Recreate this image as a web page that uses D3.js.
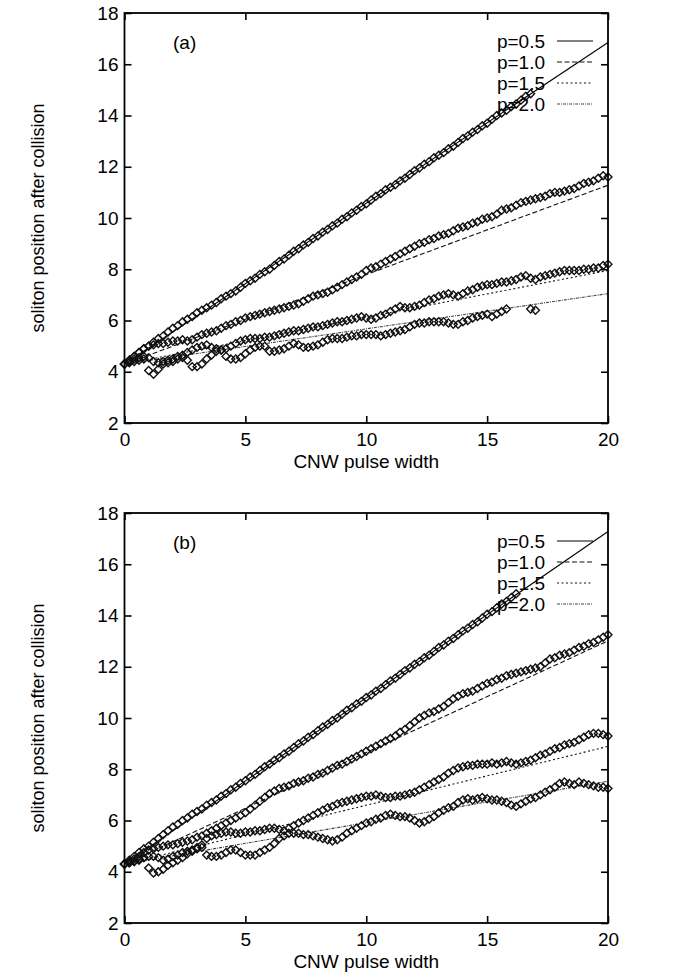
<!DOCTYPE html>
<meta charset="utf-8">
<script src="https://d3js.org/d3.v7.min.js"></script>
<style>
  body { margin: 0; background: #fff; }
  text { font-family: "Liberation Sans", Arial, Helvetica, sans-serif; fill: #000; }
</style>
<div id="chart"></div>
<script>
// sample grid of the pulse width (x) shared by every data series
const xGrid = [0, 0.2, 0.4, 0.6, 0.8, 1.0, 1.2, 1.4, 1.6, 1.8, 2.0, 2.2, 2.4, 2.6, 2.8, 3.0,
  3.2, 3.4, 3.6, 3.8, 4.0, 4.2, 4.4, 4.6, 4.8, 5.0, 5.2, 5.4, 5.6, 5.8, 6.0, 6.2, 6.4, 6.6, 6.8, 7.0,
  7.2, 7.4, 7.6, 7.8, 8.0, 8.2, 8.4, 8.6, 8.8, 9.0, 9.2, 9.4, 9.6, 9.8, 10.0, 10.2, 10.4, 10.6, 10.8, 11.0,
  11.2, 11.4, 11.6, 11.8, 12.0, 12.2, 12.4, 12.6, 12.8, 13.0, 13.2, 13.4, 13.6, 13.8, 14.0,
  14.2, 14.4, 14.6, 14.8, 15.0, 15.2, 15.4, 15.6, 15.8, 16.0, 16.2, 16.4, 16.6, 16.8, 17.0,
  17.2, 17.4, 17.6, 17.8, 18.0, 18.2, 18.4, 18.6, 18.8, 19.0, 19.2, 19.4, 19.6, 19.8, 20.0];

const legendLabels = ["p=0.5", "p=1.0", "p=1.5", "p=2.0"];
const xTicks = [0, 5, 10, 15, 20];
const yTicks = [2, 4, 6, 8, 10, 12, 14, 16, 18];

// fitted straight lines: value at x=0 and at x=20
const fitStart = 4.3;
const fitEndA = [16.85, 11.28, 7.95, 7.05];
const fitEndB = [17.28, 13.01, 8.89, 7.53];

// panel (a) simulation points
const a05 = [4.3,
  4.45, 4.6, 4.75, 4.9, 5.0, 5.15, 5.3, 5.4, 5.55, 5.7, 5.8, 5.95, 6.05, 6.15, 6.3,
  6.4, 6.5, 6.6, 6.7, 6.85, 6.95, 7.05, 7.15, 7.3, 7.45, 7.55, 7.65, 7.8, 7.9, 8.0,
  8.15, 8.3, 8.4, 8.55, 8.7, 8.8, 8.95, 9.05, 9.2, 9.3, 9.45, 9.55, 9.7, 9.8, 9.95,
  10.05, 10.2, 10.3, 10.45, 10.55, 10.7, 10.85, 10.95, 11.1, 11.2, 11.3, 11.45, 11.55, 11.7, 11.85,
  11.95, 12.1, 12.2, 12.35, 12.45, 12.55, 12.7, 12.8, 12.95, 13.1, 13.2, 13.35, 13.45, 13.6, 13.7,
  13.85, 14.0, 14.1, 14.2, 14.35, 14.45, 14.6, 14.75, 14.85];
const a10 = [4.3,
  4.45, 4.6, 4.75, 4.9, 5.0, 5.05, 5.1, 5.1, 5.15, 5.2, 5.2, 5.25, 5.2, 5.25, 5.35,
  5.45, 5.5, 5.55, 5.6, 5.7, 5.8, 5.85, 5.95, 6.0, 6.1, 6.15, 6.2, 6.25, 6.3, 6.35,
  6.4, 6.45, 6.5, 6.55, 6.6, 6.65, 6.75, 6.85, 6.95, 7.0, 7.05, 7.1, 7.2, 7.3, 7.4,
  7.5, 7.6, 7.7, 7.8, 7.95, 8.05, 8.1, 8.2, 8.3, 8.4, 8.5, 8.6, 8.7, 8.8, 8.9,
  9.0, 9.05, 9.15, 9.2, 9.3, 9.35, 9.4, 9.5, 9.6, 9.65, 9.7, 9.8, 9.85, 9.95, 10.0,
  10.05, 10.15, 10.3, 10.35, 10.4, 10.5, 10.6, 10.65, 10.7, 10.75, 10.8, 10.85, 10.95, 11.0, 11.0,
  11.05, 11.1, 11.15, 11.25, 11.35, 11.4, 11.45, 11.55, 11.65, 11.6];
const a15 = [4.3,
  4.4, 4.5, 4.55, 4.6, 4.55, 4.4, 4.35, 4.4, 4.45, 4.5, 4.6, 4.65, 4.75, 4.85, 4.95,
  5.0, 5.05, 4.95, 4.9, 4.85, 4.9, 5.0, 5.1, 5.2, 5.25, 5.3, 5.3, 5.3, 5.35, 5.35,
  5.4, 5.45, 5.5, 5.55, 5.6, 5.6, 5.65, 5.7, 5.75, 5.75, 5.8, 5.85, 5.9, 5.95, 5.95,
  6.0, 6.05, 6.1, 6.15, 6.1, 6.05, 6.1, 6.2, 6.25, 6.35, 6.45, 6.55, 6.5, 6.5, 6.55,
  6.6, 6.7, 6.8, 6.85, 6.95, 7.0, 7.05, 7.0, 6.95, 7.05, 7.15, 7.2, 7.3, 7.35, 7.4,
  7.4, 7.45, 7.5, 7.5, 7.55, 7.6, 7.7, 7.75, 7.65, 7.6, 7.7, 7.75, 7.8, 7.85, 7.9,
  7.95, 7.95, 7.95, 7.95, 8.0, 8.0, 8.05, 8.05, 8.15, 8.2];
const a20 = [4.3,
  4.35, 4.4, 4.45, 4.5, 4.05, 3.9, 4.1, 4.3, 4.35, 4.4, 4.5, 4.55, 4.45, 4.2, 4.2,
  4.3, 4.5, 4.65, 4.8, 4.85, 4.6, 4.5, 4.5, 4.55, 4.7, 4.85, 4.95, 5.0, 5.0, 4.8,
  4.8, 4.85, 4.9, 5.0, 5.1, 5.05, 4.95, 4.95, 5.0, 5.05, 5.15, 5.25, 5.3, 5.3, 5.3,
  5.35, 5.4, 5.4, 5.45, 5.45, 5.45, 5.45, 5.4, 5.45, 5.5, 5.55, 5.6, 5.65, 5.75, 5.85,
  5.9, 5.9, 5.95, 5.95, 5.95, 5.95, 5.9, 5.85, 5.85, 5.95, 6.0, 6.1, 6.15, 6.2, 6.25,
  6.15, 6.25, 6.35, 6.45, null, null, null, null, 6.45, 6.4];

// panel (b) simulation points
const b05 = [4.3,
  4.45, 4.6, 4.75, 4.9, 5.0, 5.15, 5.3, 5.45, 5.6, 5.75, 5.85, 6.0, 6.1, 6.25, 6.35,
  6.45, 6.6, 6.7, 6.8, 6.95, 7.05, 7.2, 7.3, 7.45, 7.55, 7.7, 7.8, 7.95, 8.1, 8.2,
  8.35, 8.45, 8.6, 8.7, 8.85, 9.0, 9.1, 9.25, 9.35, 9.5, 9.65, 9.75, 9.9, 10.0, 10.15,
  10.3, 10.4, 10.55, 10.65, 10.8, 10.9, 11.05, 11.15, 11.3, 11.45, 11.55, 11.7, 11.85, 11.95, 12.1,
  12.2, 12.35, 12.45, 12.6, 12.75, 12.85, 13.0, 13.1, 13.25, 13.4, 13.5, 13.65, 13.75, 13.9, 14.05,
  14.15, 14.3, 14.45, 14.55, 14.7, 14.85];
const b10 = [4.3,
  4.4, 4.5, 4.6, 4.75, 4.85, 4.9, 4.95, 5.0, 5.05, 5.05, 5.1, 5.15, 5.2, 5.25, 5.35,
  5.4, 5.5, 5.6, 5.7, 5.8, 5.9, 6.0, 6.1, 6.2, 6.3, 6.45, 6.6, 6.75, 6.9, 7.05,
  7.15, 7.25, 7.3, 7.35, 7.45, 7.5, 7.55, 7.65, 7.7, 7.8, 7.85, 7.95, 8.05, 8.15, 8.2,
  8.3, 8.4, 8.5, 8.6, 8.7, 8.8, 8.9, 9.0, 9.1, 9.2, 9.3, 9.45, 9.55, 9.7, 9.85,
  10.0, 10.1, 10.2, 10.25, 10.35, 10.45, 10.6, 10.75, 10.85, 10.95, 11.0, 11.05, 11.15, 11.25, 11.35,
  11.4, 11.5, 11.55, 11.65, 11.7, 11.75, 11.8, 11.85, 11.9, 11.95, 12.0, 12.15, 12.3, 12.35, 12.45,
  12.5, 12.55, 12.65, 12.75, 12.8, 12.9, 12.95, 13.05, 13.15, 13.25];
const b15 = [4.3,
  4.35, 4.4, 4.5, 4.55, 4.6, 4.6, 4.55, 4.45, 4.5, 4.6, 4.65, 4.75, 4.8, 4.85, 4.95,
  5.05, 5.3, 5.4, 5.45, 5.5, 5.55, 5.55, 5.5, 5.5, 5.55, 5.55, 5.6, 5.6, 5.65, 5.7,
  5.7, 5.65, 5.6, 5.7, 5.8, 5.9, 6.0, 6.1, 6.2, 6.3, 6.4, 6.5, 6.55, 6.65, 6.7,
  6.75, 6.8, 6.85, 6.9, 6.95, 6.95, 7.0, 6.95, 6.9, 6.9, 6.95, 6.95, 7.0, 7.05, 7.1,
  7.2, 7.3, 7.4, 7.5, 7.6, 7.7, 7.85, 7.95, 8.05, 8.1, 8.15, 8.15, 8.2, 8.2, 8.2,
  8.25, 8.2, 8.25, 8.3, 8.25, 8.2, 8.25, 8.3, 8.35, 8.45, 8.55, 8.6, 8.7, 8.8, 8.85,
  8.95, 9.0, 9.05, 9.15, 9.25, 9.35, 9.4, 9.4, 9.35, 9.3];
const b20 = [4.3,
  4.35, 4.4, 4.45, 4.55, 4.15, 3.95, 4.0, 4.1, 4.25, 4.35, 4.45, 4.55, 4.7, 4.8, 4.9,
  4.95, 4.65, 4.6, 4.6, 4.65, 4.75, 4.85, 4.85, 4.75, 4.65, 4.65, 4.65, 4.75, 4.85, 4.95,
  5.1, 5.3, 5.4, 5.5, 5.5, 5.5, 5.45, 5.45, 5.4, 5.35, 5.3, 5.25, 5.2, 5.25, 5.35,
  5.5, 5.6, 5.7, 5.8, 5.9, 5.95, 6.05, 6.1, 6.2, 6.25, 6.2, 6.15, 6.15, 6.1, 6.0,
  5.9, 5.95, 6.05, 6.15, 6.3, 6.4, 6.5, 6.55, 6.7, 6.8, 6.85, 6.8, 6.85, 6.9, 6.85,
  6.8, 6.8, 6.75, 6.7, 6.6, 6.55, 6.65, 6.75, 6.85, 6.9, 7.0, 7.1, 7.2, 7.3, 7.45,
  7.5, 7.45, 7.4, 7.5, 7.45, 7.4, 7.35, 7.3, 7.3, 7.25];

const W = 681, H = 979;
const left = 124.5, right = 608;
const panels = [
  { top: 13, bottom: 423, tag: "(a)", series: [a05, a10, a15, a20], ends: fitEndA },
  { top: 513, bottom: 923, tag: "(b)", series: [b05, b10, b15, b20], ends: fitEndB }
];
const dashes = [null, "5,2.5", "2,2.5", "3,1,1,1"];
const lineColor = ["#000", "#111", "#111", "#444"];

const svg = d3.select("#chart").append("svg")
  .attr("width", W).attr("height", H);

const diamond = d3.symbol().type(d3.symbolDiamond2).size(40);

panels.forEach(function (p) {
  const x = d3.scaleLinear().domain([0, 20]).range([left, right]);
  const y = d3.scaleLinear().domain([2, 18]).range([p.bottom, p.top]);
  const g = svg.append("g");

  // fitted lines
  p.ends.forEach(function (e, i) {
    g.append("path")
      .datum([[0, fitStart], [20, e]])
      .attr("d", d3.line().x(d => x(d[0])).y(d => y(d[1])))
      .attr("fill", "none")
      .attr("stroke", lineColor[i])
      .attr("stroke-width", 1.1)
      .attr("stroke-dasharray", dashes[i]);
  });

  // simulation points
  p.series.forEach(function (s) {
    const pts = s.map((v, k) => [xGrid[k], v]).filter(d => d[1] !== null);
    g.append("g").selectAll("path")
      .data(pts)
      .join("path")
      .attr("transform", d => `translate(${x(d[0])},${y(d[1])})`)
      .attr("d", diamond)
      .attr("fill", "none")
      .attr("stroke", "#111")
      .attr("stroke-width", 1.4);
  });

  // axes with inward ticks on all sides
  const xb = g.append("g").attr("transform", `translate(0,${p.bottom})`)
    .call(d3.axisBottom(x).tickValues(xTicks).tickSize(-7).tickPadding(10).tickFormat(d3.format("d")));
  const xt = g.append("g").attr("transform", `translate(0,${p.top})`)
    .call(d3.axisTop(x).tickValues(xTicks).tickSize(-7).tickFormat(""));
  const yl = g.append("g").attr("transform", `translate(${left},0)`)
    .call(d3.axisLeft(y).tickValues(yTicks).tickSize(-7).tickPadding(6));
  const yr = g.append("g").attr("transform", `translate(${right},0)`)
    .call(d3.axisRight(y).tickValues(yTicks).tickSize(-7).tickFormat(""));
  [xb, xt, yl, yr].forEach(function (a) {
    a.select(".domain").remove();
    a.selectAll(".tick line").attr("stroke", "#000").attr("stroke-width", 1.6);
    a.selectAll(".tick text").attr("font-size", 19).attr("fill", "#000")
      .style("font-family", '"Liberation Sans", Arial, sans-serif');
  });

  g.append("rect")
    .attr("x", left).attr("y", p.top)
    .attr("width", right - left).attr("height", p.bottom - p.top)
    .attr("fill", "none").attr("stroke", "#000").attr("stroke-width", 1.8);

  // axis titles
  g.append("text")
    .attr("x", (left + right) / 2).attr("y", p.bottom + 45)
    .attr("text-anchor", "middle").attr("font-size", 19)
    .text("CNW pulse width");
  g.append("text")
    .attr("transform", `translate(44,${(p.top + p.bottom) / 2}) rotate(-90)`)
    .attr("text-anchor", "middle").attr("font-size", 18)
    .text("soliton position after collision");

  // panel tag
  g.append("text")
    .attr("x", 173).attr("y", p.top + 36)
    .attr("font-size", 19)
    .text(p.tag);

  // legend
  legendLabels.forEach(function (lab, i) {
    const ly = p.top + 28 + i * 21;
    g.append("text")
      .attr("x", 545).attr("y", ly).attr("dy", "0.35em")
      .attr("text-anchor", "end").attr("font-size", 19)
      .text(lab);
    g.append("line")
      .attr("x1", 557).attr("x2", 593).attr("y1", ly).attr("y2", ly)
      .attr("stroke", lineColor[i]).attr("stroke-width", 1.1)
      .attr("stroke-dasharray", dashes[i]);
  });
});
</script>
